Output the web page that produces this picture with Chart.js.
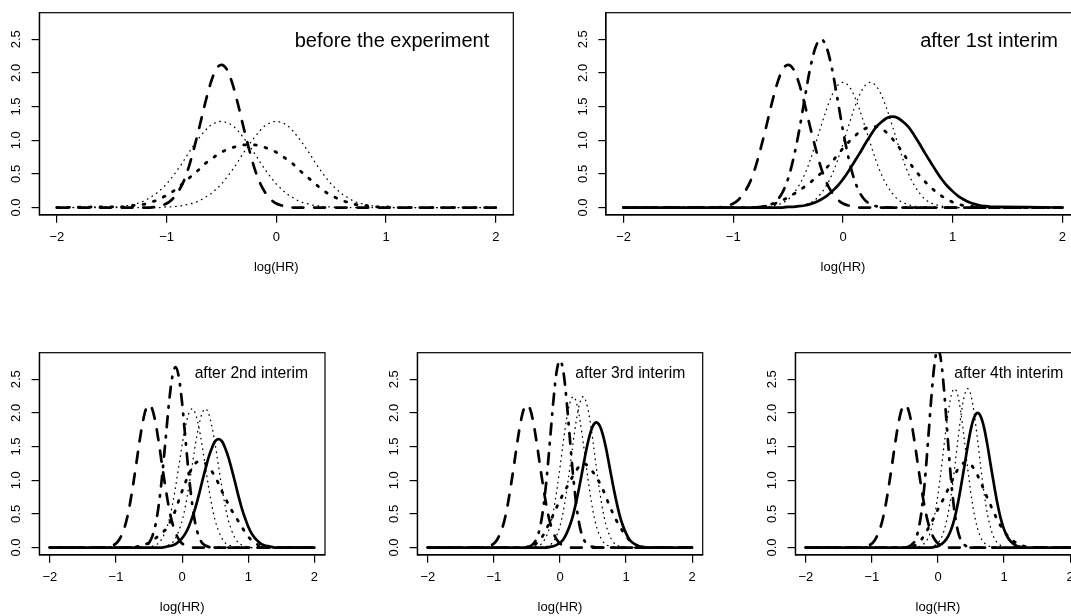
<!DOCTYPE html>
<html><head><meta charset="utf-8">
<script src="https://cdn.jsdelivr.net/npm/chart.js@4"></script>
<style>
html,body{margin:0;padding:0;background:#fff;width:1071px;height:616px;overflow:hidden;position:relative;}
canvas{position:absolute;}
</style></head><body>
<canvas id="c1"></canvas><canvas id="c2"></canvas><canvas id="c3"></canvas><canvas id="c4"></canvas><canvas id="c5"></canvas>
<script>
// ---- shared x grid (log hazard ratio) ----
const logHR = [-2,
 -1.5,-1.45,-1.4,-1.35,-1.3,-1.25,-1.2,-1.15,-1.1,-1.05,
 -1.0,-0.95,-0.9,-0.85,-0.8,-0.75,-0.7,-0.65,-0.6,-0.55,
 -0.5,-0.45,-0.4,-0.35,-0.3,-0.25,-0.2,-0.15,-0.1,-0.05,
 0,0.05,0.1,0.15,0.2,0.25,0.3,0.35,0.4,0.45,
 0.5,0.55,0.6,0.65,0.7,0.75,0.8,0.85,0.9,0.95,
 1.0,1.05,1.1,1.15,1.2,1.25,1.3,1.35,1.4,
 2];

const xTickValues = [-2,-1,0,1,2];
const yTickValues = [0,0.5,1,1.5,2,2.5];
const panelTitles = ["before the experiment","after 1st interim","after 2nd interim","after 3rd interim","after 4th interim"];

// ---- densities ----
const prior = [0,
 0,0,0,0,0,0,0,0,0.01,0.03,
 0.06,0.12,0.22,0.37,0.59,0.88,1.20,1.54,1.84,2.05,
 2.12,2.05,1.84,1.54,1.20,0.88,0.59,0.37,0.22,0.12,
 0.06,0.03,0.01,0,0,0,0,0,0,0,
 0,0,0,0,0,0,0,0,0,0,
 0,0,0,0,0,0,0,0,0,
 0];

const p1ThinA = [0,
 0.01,0.01,0.02,0.03,0.05,0.07,0.10,0.15,0.20,0.27,
 0.35,0.45,0.56,0.68,0.81,0.93,1.04,1.14,1.22,1.26,
 1.28,1.26,1.22,1.14,1.04,0.93,0.81,0.68,0.56,0.45,
 0.35,0.27,0.20,0.15,0.10,0.07,0.05,0.03,0.02,0.01,
 0.01,0,0,0,0,0,0,0,0,0,
 0,0,0,0,0,0,0,0,0,
 0];
const p1ThinB = [0,
 0,0,0,0,0,0,0,0,0,0,
 0.01,0.01,0.02,0.03,0.05,0.07,0.10,0.15,0.20,0.27,
 0.35,0.45,0.56,0.68,0.81,0.93,1.04,1.14,1.22,1.26,
 1.28,1.26,1.22,1.14,1.04,0.93,0.81,0.68,0.56,0.45,
 0.35,0.27,0.20,0.15,0.10,0.07,0.05,0.03,0.02,0.01,
 0.01,0,0,0,0,0,0,0,0,
 0];
const p1Thick = [0,
 0.01,0.01,0.01,0.02,0.03,0.04,0.05,0.08,0.10,0.14,
 0.18,0.23,0.29,0.36,0.43,0.50,0.57,0.65,0.71,0.77,
 0.82,0.86,0.89,0.91,0.93,0.93,0.93,0.91,0.89,0.86,
 0.82,0.77,0.71,0.65,0.57,0.50,0.43,0.36,0.29,0.23,
 0.18,0.14,0.10,0.08,0.05,0.04,0.03,0.02,0.01,0.01,
 0.01,0,0,0,0,0,0,0,0,
 0];

const p2DotDash = [0,
 0,0,0,0,0,0,0,0,0,0,
 0,0,0,0,0,0.01,0.02,0.05,0.11,0.23,
 0.43,0.74,1.14,1.61,2.06,2.38,2.50,2.38,2.06,1.61,
 1.14,0.74,0.43,0.23,0.11,0.05,0.02,0.01,0,0,
 0,0,0,0,0,0,0,0,0,0,
 0,0,0,0,0,0,0,0,0,
 0];
const p2ThinA = [0,
 0,0,0,0,0,0,0,0,0,0,
 0,0,0,0,0,0,0.01,0.02,0.04,0.07,
 0.12,0.21,0.33,0.49,0.70,0.95,1.21,1.46,1.67,1.81,
 1.86,1.81,1.67,1.46,1.21,0.95,0.70,0.49,0.33,0.21,
 0.12,0.07,0.04,0.02,0.01,0,0,0,0,0,
 0,0,0,0,0,0,0,0,0,
 0];
const p2ThinB = [0,
 0,0,0,0,0,0,0,0,0,0,
 0,0,0,0,0,0,0,0,0,0,
 0,0.01,0.02,0.04,0.07,0.12,0.21,0.33,0.49,0.70,
 0.95,1.21,1.46,1.67,1.81,1.86,1.81,1.67,1.46,1.21,
 0.95,0.70,0.49,0.33,0.21,0.12,0.07,0.04,0.02,0.01,
 0,0,0,0,0,0,0,0,0,
 0];
const p2Thick = [0,
 0,0,0,0,0,0,0,0,0,0,
 0,0,0,0,0,0.01,0.02,0.04,0.07,0.11,
 0.15,0.20,0.25,0.31,0.37,0.44,0.51,0.59,0.68,0.78,
 0.88,0.97,1.05,1.12,1.17,1.20,1.20,1.17,1.11,1.02,
 0.92,0.80,0.68,0.57,0.47,0.38,0.30,0.23,0.17,0.12,
 0.08,0.05,0.03,0.02,0.01,0,0,0,0,
 0];
const p2Solid = [0,
 0,0,0,0,0,0,0,0,0,0,
 0,0,0,0,0,0,0,0,0,0,
 0.01,0.01,0.02,0.03,0.05,0.08,0.12,0.17,0.24,0.32,
 0.42,0.54,0.67,0.80,0.94,1.07,1.19,1.27,1.33,1.35,
 1.33,1.27,1.19,1.07,0.94,0.80,0.67,0.54,0.42,0.32,
 0.24,0.17,0.12,0.08,0.05,0.03,0.02,0.01,0.01,
 0];

const p3DotDash = [0,
 0,0,0,0,0,0,0,0,0,0,
 0,0,0,0,0,0,0,0,0.01,0.03,
 0.07,0.17,0.35,0.66,1.09,1.61,2.14,2.53,2.68,2.53,
 2.14,1.61,1.09,0.66,0.35,0.17,0.07,0.03,0.01,0,
 0,0,0,0,0,0,0,0,0,0,
 0,0,0,0,0,0,0,0,0,
 0];
const p3ThinA = [0,
 0,0,0,0,0,0,0,0,0,0,
 0,0,0,0,0,0,0,0,0,0,
 0.01,0.02,0.04,0.07,0.14,0.25,0.40,0.62,0.90,1.21,
 1.53,1.80,1.99,2.06,1.99,1.80,1.53,1.21,0.90,0.62,
 0.40,0.25,0.14,0.07,0.04,0.02,0.01,0,0,0,
 0,0,0,0,0,0,0,0,0,
 0];
const p3ThinB = [0,
 0,0,0,0,0,0,0,0,0,0,
 0,0,0,0,0,0,0,0,0,0,
 0,0,0,0,0.01,0.02,0.04,0.07,0.14,0.25,
 0.40,0.62,0.90,1.21,1.53,1.80,1.99,2.06,1.99,1.80,
 1.53,1.21,0.90,0.62,0.40,0.25,0.14,0.07,0.04,0.02,
 0.01,0,0,0,0,0,0,0,0,
 0];
const p3Thick = [0,
 0,0,0,0,0,0,0,0,0,0,
 0,0,0,0,0,0,0.01,0.02,0.03,0.05,
 0.07,0.11,0.14,0.18,0.22,0.27,0.35,0.44,0.56,0.70,
 0.84,0.97,1.08,1.18,1.25,1.28,1.28,1.25,1.20,1.13,
 1.05,0.95,0.84,0.74,0.64,0.55,0.47,0.39,0.31,0.23,
 0.16,0.11,0.07,0.04,0.02,0.01,0,0,0,
 0];
const p3Solid = [0,
 0,0,0,0,0,0,0,0,0,0,
 0,0,0,0,0,0,0,0,0,0,
 0,0,0,0,0,0.01,0.02,0.03,0.05,0.09,
 0.14,0.21,0.31,0.44,0.59,0.77,0.97,1.16,1.34,1.48,
 1.58,1.61,1.58,1.48,1.34,1.16,0.97,0.77,0.59,0.44,
 0.31,0.21,0.14,0.09,0.05,0.03,0.02,0.01,0,
 0];

const p4DotDash = [0,
 0,0,0,0,0,0,0,0,0,0,
 0,0,0,0,0,0,0,0,0,0,
 0.01,0.02,0.06,0.14,0.31,0.61,1.05,1.61,2.18,2.62,
 2.78,2.62,2.18,1.61,1.05,0.61,0.31,0.14,0.06,0.02,
 0.01,0,0,0,0,0,0,0,0,0,
 0,0,0,0,0,0,0,0,0,
 0];
const p4ThinA = [0,
 0,0,0,0,0,0,0,0,0,0,
 0,0,0,0,0,0,0,0,0,0,
 0,0,0.01,0.02,0.04,0.09,0.18,0.32,0.54,0.84,
 1.19,1.57,1.91,2.15,2.24,2.15,1.91,1.57,1.19,0.84,
 0.54,0.32,0.18,0.09,0.04,0.02,0.01,0,0,0,
 0,0,0,0,0,0,0,0,0,
 0];
const p4ThinB = [0,
 0,0,0,0,0,0,0,0,0,0,
 0,0,0,0,0,0,0,0,0,0,
 0,0,0,0,0,0.01,0.02,0.04,0.09,0.18,
 0.32,0.54,0.84,1.19,1.57,1.91,2.15,2.24,2.15,1.91,
 1.57,1.19,0.84,0.54,0.32,0.18,0.09,0.04,0.02,0.01,
 0,0,0,0,0,0,0,0,0,
 0];
const p4Thick = [0,
 0,0,0,0,0,0,0,0,0,0,
 0,0,0,0,0,0,0,0,0,0,
 0,0.01,0.03,0.07,0.12,0.19,0.29,0.38,0.49,0.60,
 0.70,0.80,0.89,0.98,1.07,1.15,1.22,1.25,1.23,1.18,
 1.12,1.05,0.96,0.86,0.74,0.62,0.51,0.41,0.32,0.24,
 0.17,0.11,0.07,0.04,0.02,0.01,0,0,0,
 0];
const p4Solid = [0,
 0,0,0,0,0,0,0,0,0,0,
 0,0,0,0,0,0,0,0,0,0,
 0,0,0,0,0,0,0,0.01,0.02,0.04,
 0.07,0.12,0.21,0.33,0.49,0.70,0.94,1.20,1.46,1.67,
 1.81,1.86,1.81,1.67,1.46,1.20,0.94,0.70,0.49,0.33,
 0.21,0.12,0.07,0.04,0.02,0.01,0,0,0,
 0];

const p5DotDash = [0,
 0,0,0,0,0,0,0,0,0,0,
 0,0,0,0,0,0,0,0,0,0,
 0,0.01,0.04,0.10,0.25,0.53,0.98,1.59,2.24,2.75,
 2.95,2.75,2.24,1.59,0.98,0.53,0.25,0.10,0.04,0.01,
 0,0,0,0,0,0,0,0,0,0,
 0,0,0,0,0,0,0,0,0,
 0];
const p5ThinA = [0,
 0,0,0,0,0,0,0,0,0,0,
 0,0,0,0,0,0,0,0,0,0,
 0,0,0,0,0.01,0.03,0.07,0.14,0.28,0.49,
 0.79,1.17,1.59,1.98,2.26,2.36,2.26,1.98,1.59,1.17,
 0.79,0.49,0.28,0.14,0.07,0.03,0.01,0,0,0,
 0,0,0,0,0,0,0,0,0,
 0];
const p5ThinB = [0,
 0,0,0,0,0,0,0,0,0,0,
 0,0,0,0,0,0,0,0,0,0,
 0,0,0,0,0,0,0,0,0.01,0.03,
 0.07,0.14,0.28,0.49,0.79,1.17,1.59,1.98,2.26,2.36,
 2.26,1.98,1.59,1.17,0.79,0.49,0.28,0.14,0.07,0.03,
 0.01,0,0,0,0,0,0,0,0,
 0];
const p5Thick = [0,
 0,0,0,0,0,0,0,0,0,0,
 0,0,0,0,0,0,0,0,0,0,
 0,0,0.01,0.03,0.07,0.12,0.20,0.28,0.37,0.47,
 0.57,0.66,0.76,0.86,0.96,1.07,1.16,1.22,1.26,1.26,
 1.23,1.16,1.07,0.96,0.85,0.73,0.62,0.51,0.41,0.32,
 0.24,0.18,0.13,0.09,0.06,0.04,0.02,0.01,0,
 0];
const p5Solid = [0,
 0,0,0,0,0,0,0,0,0,0,
 0,0,0,0,0,0,0,0,0,0,
 0,0,0,0,0,0,0,0,0,0.01,
 0.02,0.05,0.09,0.16,0.27,0.43,0.65,0.92,1.21,1.51,
 1.77,1.94,2.00,1.94,1.77,1.51,1.21,0.92,0.65,0.43,
 0.27,0.16,0.09,0.05,0.02,0.01,0,0,0,
 0];

// ---- styling ----
const FONT = "'Liberation Sans', Arial, Helvetica, sans-serif";
const LINE = {
  dashed:  {borderWidth:2.7, borderDash:[10.8,10.8]},
  dotdash: {borderWidth:2.7, borderDash:[1.5,8.7,10.8,8.7]},
  thick:   {borderWidth:2.8, borderDash:[1.8,9.0]},
  thin:    {borderWidth:1.3, borderDash:[0.6,4.8]},
  solid:   {borderWidth:2.7, borderDash:[]}
};
const AXIS_H = 59.8;
const Y_MIN = -0.111, Y_MAX = 2.894, X_MIN = -2.16, X_MAX = 2.16;

const panels = [
  {id:'c1', canvas:{l:0,t:-20,w:540,h:305},   box:{l:39.3,t:12.7,w:474,h:202.3},   title:panelTitles[0], tsize:20,   inset:24,   base:33.8,
   series:[[p1ThinA,'thin'],[p1ThinB,'thin'],[p1Thick,'thick'],[prior,'dashed']]},
  {id:'c2', canvas:{l:540,t:-20,w:560,h:305}, box:{l:606,t:12.7,w:474,h:202.3},    title:panelTitles[1], tsize:20,   inset:22,   base:33.8,
   series:[[p2ThinA,'thin'],[p2ThinB,'thin'],[p2Thick,'thick'],[prior,'dashed'],[p2DotDash,'dotdash'],[p2Solid,'solid']]},
  {id:'c3', canvas:{l:0,t:320,w:345,h:305},   box:{l:39.3,t:352.7,w:285.7,h:202.3}, title:panelTitles[2], tsize:15.7, inset:17,   base:25,
   series:[[p3ThinA,'thin'],[p3ThinB,'thin'],[p3Thick,'thick'],[prior,'dashed'],[p3DotDash,'dotdash'],[p3Solid,'solid']]},
  {id:'c4', canvas:{l:360,t:320,w:363,h:305}, box:{l:417.3,t:352.7,w:285.4,h:202.3}, title:panelTitles[3], tsize:15.7, inset:17.5, base:25,
   series:[[p4ThinA,'thin'],[p4ThinB,'thin'],[p4Thick,'thick'],[prior,'dashed'],[p4DotDash,'dotdash'],[p4Solid,'solid']]},
  {id:'c5', canvas:{l:740,t:320,w:361,h:305}, box:{l:795.3,t:352.7,w:285.4,h:202.3}, title:panelTitles[4], tsize:15.7, inset:17.5, base:25,
   series:[[p5ThinA,'thin'],[p5ThinB,'thin'],[p5Thick,'thick'],[prior,'dashed'],[p5DotDash,'dotdash'],[p5Solid,'solid']]}
];

const boxPlugin = {
  id:'rbox',
  afterDraw(chart, args, opts){
    const {ctx, chartArea:a} = chart;
    ctx.save();
    ctx.strokeStyle = '#000'; ctx.lineWidth = 1.2;
    ctx.strokeRect(a.left, a.top, a.right - a.left, a.bottom - a.top);
    ctx.font = opts.size + 'px ' + FONT;
    ctx.fillStyle = '#000'; ctx.textAlign = 'right'; ctx.textBaseline = 'alphabetic';
    ctx.fillText(opts.text, a.right - opts.inset, a.top + opts.baseline);
    ctx.restore();
  }
};

const fmtX = v => v < 0 ? '\u2212' + Math.abs(v) : String(v);

panels.forEach(p => {
  const cv = document.getElementById(p.id);
  cv.width = p.canvas.w; cv.height = p.canvas.h;
  cv.style.left = p.canvas.l + 'px'; cv.style.top = p.canvas.t + 'px';
  cv.style.width = p.canvas.w + 'px'; cv.style.height = p.canvas.h + 'px';
  const yW = p.box.l - p.canvas.l;
  const padTop = p.box.t - p.canvas.t;
  const padRight = (p.canvas.l + p.canvas.w) - (p.box.l + p.box.w);
  const padBottom = p.canvas.h - padTop - p.box.h - AXIS_H;
  const datasets = p.series.map(([vals, kind]) => Object.assign({
    data: logHR.map((x, i) => ({x: x, y: vals[i]})),
    borderColor:'#000', backgroundColor:'#000', fill:false, pointRadius:0,
    cubicInterpolationMode:'monotone', borderCapStyle:'round', borderJoinStyle:'round', clip:0
  }, LINE[kind]));
  const tickFont = {family:FONT, size:13};
  const gridOpt = {display:true, drawOnChartArea:false, drawTicks:true, tickLength:7.7, color:'#000', lineWidth:1.2};
  new Chart(cv, {
    type:'line',
    data:{datasets},
    plugins:[boxPlugin],
    options:{
      responsive:false, animation:false, devicePixelRatio:1,
      layout:{padding:{left:0, top:padTop, right:padRight, bottom:padBottom}},
      plugins:{legend:{display:false}, tooltip:{enabled:false}, title:{display:false},
               rbox:{text:p.title, size:p.tsize, inset:p.inset, baseline:p.base}},
      scales:{
        x:{type:'linear', position:'bottom', min:X_MIN, max:X_MAX,
           afterBuildTicks: s => { s.ticks = xTickValues.map(v => ({value:v})); },
           afterFit: s => { s.height = AXIS_H; },
           ticks:{padding:7, color:'#000', font:tickFont, autoSkip:false, maxRotation:0, minRotation:0, callback: v => fmtX(v)},
           grid:gridOpt, border:{display:true, color:'#000', width:1.2},
           title:{display:true, text:'log(HR)', color:'#000', font:tickFont, padding:0}},
        y:{type:'linear', position:'left', min:Y_MIN, max:Y_MAX,
           afterBuildTicks: s => { s.ticks = yTickValues.map(v => ({value:v})); },
           afterFit: s => { s.width = yW; },
           ticks:{padding:5.9, color:'#000', font:tickFont, autoSkip:false, minRotation:90, maxRotation:90, crossAlign:'center', callback: v => Number(v).toFixed(1)},
           grid:gridOpt, border:{display:true, color:'#000', width:1.2}}
      }
    }
  });
});
</script>
</body></html>
